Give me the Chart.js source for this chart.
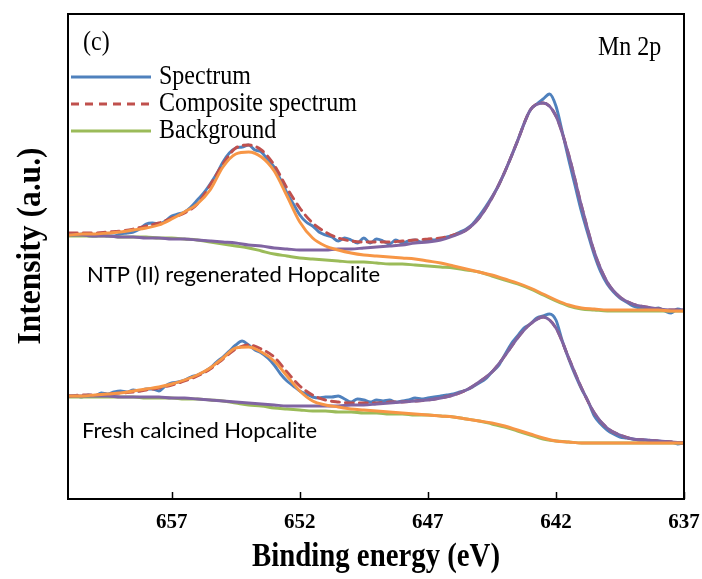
<!DOCTYPE html>
<html>
<head>
<meta charset="utf-8">
<script src="https://cdn.jsdelivr.net/npm/chart.js@4"></script>
<style>
html,body{margin:0;padding:0;background:#fff;}
#wrap{width:702px;height:579px;}
</style>
</head>
<body>
<div id="wrap"><canvas id="c" width="702" height="579"></canvas></div>
<script>
// ---- Data (binding energy in eV, intensity in a.u.) ----
const energyFine = [661,660.75,660.5,660.25,660,659.75,659.5,659.25,659,658.75,658.5,658.25,658,657.75,657.5,657.25,657,656.75,656.5,656.25,656,655.75,655.5,655.25,655,654.75,654.5,654.25,654,653.75,653.5,653.25,653,652.75,652.5,652.25,652,651.75,651.5,651.25,651,650.75,650.5,650.25,650,649.75,649.5,649.25,649,648.75,648.5,648.25,648,647.75,647.5,647.25,647,646.75,646.5,646.25,646,645.75,645.5,645.25,645,644.75,644.5,644.25,644,643.75,643.5,643.25,643,642.75,642.5,642.25,642,641.75,641.5,641.25,641,640.75,640.5,640.25,640,639.75,639.5,639.25,639,638.75,638.5,638.25,638,637.75,637.5,637.25,637];
const energyFit = [661,660.5,660,659.5,659,658.5,658,657.5,657,656.5,656,655.5,655,654.5,654,653.5,653,652.5,652,651.5,651,650.5,650,649.5,649,648.5,648,647.5,647,646.5,646,645.5,645,644.5,644,643.5,643,642.5,642,641.5,641,640.5,640,639.5,639,638.5,638,637.5,637];

// NTP (II) regenerated Hopcalite
const ntpSpectrum = [265,265,266,264,264,265,264,264,266,267,268,271,276,277,276,279,284,286,288,293,300,307,316,326,338,347,352,353,355,350,348,340,333,320,307,296,285,278,274,268,265,263,259,262,260,257,262,257,261,259,256,260,257,259,260,258,260,260,261,263,265,268,271,276,284,293,303,314,328,343,359,376,390,396,401,406,394,368,340,314,288,266,245,228,216,208,202,198,194,192,191,191,192,189,187,191,189];
const ntpComposite = [267,267,267,268,269,271,274,277,282,287,296,315,336,352,355,350,335,312,292,277,268,262,259,258,258,258,259,260,261,262,265,270,282,302,328,359,390,397,384,345,294,248,218,203,196,193,191,190,190];
const ntpBackground = [264,264,264,264,263,263,263,262,262,261,260,258,256,254,252,249,246,244,242,241,240,239,238,238,237,236,236,235,234,233,232,230,228,224,220,216,211,205,199,194,191,190,189,189,189,189,189,189,189];
const ntpPeak2p3 = [265,265,264,264,263,263,262,262,261,261,260,259,258,257,255,254,252,251,250,250,250,251,251,252,253,254,255,257,258,260,264,270,282,302,328,359,390,397,384,345,294,248,218,203,196,193,191,190,190];
const ntpPeak2p1 = [265,266,266,267,268,270,272,275,281,288,296,310,333,346,348,343,329,304,278,262,254,250,247,245,244,243,242,241,239,237,234,231,228,225,221,217,212,206,200,195,192,191,190,190,190,190,190,189,189];

// Fresh calcined Hopcalite
const freshSpectrum = [104,104,103,105,104,107,106,108,109,108,110,109,111,111,109,114,117,118,120,123,125,128,132,138,143,149,155,159,155,150,147,142,135,126,119,114,109,106,103,102,103,103,104,101,98,101,100,98,100,99,100,98,99,100,102,101,102,103,104,105,106,108,110,113,117,121,128,134,145,156,164,172,176,182,184,186,180,159,141,125,111,99,84,76,70,66,63,62,61,60,60,59,59,58,58,56,57];
const freshComposite = [104,105,105,106,107,108,110,112,115,119,124,131,141,151,155,151,143,128,114,105,100,98,97,97,97,98,98,99,100,102,105,110,118,128,144,162,176,183,172,142,112,87,72,65,61,60,59,58,57];
const freshBackground = [103,103,103,103,103,103,102,102,102,101,101,100,99,97,95,94,92,91,90,89,89,88,88,87,87,86,86,85,85,84,83,81,79,76,73,69,65,61,59,58,57,57,57,57,57,57,57,57,57];
const freshPeak2p3 = [104,104,104,104,103,103,103,103,102,102,101,100,99,98,97,96,95,94,94,94,94,94,95,95,96,97,98,99,100,102,105,110,118,128,144,162,176,183,172,142,112,87,72,65,61,60,59,58,57];
const freshPeak2p1 = [104,104,105,106,107,109,111,113,116,120,125,132,142,152,153,148,139,124,109,99,95,93,91,90,89,88,87,86,85,84,83,81,79,77,74,70,66,62,59,58,57,57,57,57,57,57,57,57,57];

const tickValues = [657,652,647,642,637];
const legendLabels = ['Spectrum','Composite spectrum','Background'];

// ---- Styles ----
const C_BLUE='#4F81BD', C_RED='#C0504D', C_GREEN='#9BBB59', C_PURPLE='#8064A2', C_ORANGE='#F79646';
const LW = 2.9;
const pts = (xs, ys) => xs.map((x,i)=>({x:x, y:ys[i]}));
function ds(xs, ys, color, dash){
  return {data:pts(xs,ys), borderColor:color, backgroundColor:color, borderWidth:LW,
    borderDash: dash||[], pointRadius:0, fill:false, cubicInterpolationMode:'monotone', borderCapStyle:'round', borderJoinStyle:'round'};
}
// first dataset is drawn on top
const datasets = [
  ds(energyFit, ntpPeak2p1, C_ORANGE),
  ds(energyFit, ntpPeak2p3, C_PURPLE),
  ds(energyFit, ntpComposite, C_RED, [8,6]),
  ds(energyFit, ntpBackground, C_GREEN),
  ds(energyFine, ntpSpectrum, C_BLUE),
  ds(energyFit, freshPeak2p1, C_ORANGE),
  ds(energyFit, freshPeak2p3, C_PURPLE),
  ds(energyFit, freshComposite, C_RED, [8,6]),
  ds(energyFit, freshBackground, C_GREEN),
  ds(energyFine, freshSpectrum, C_BLUE)
];

const SERIF='"Liberation Serif", "Times New Roman", serif';
const SANS='Lato, "Open Sans", sans-serif';
const texts = [
  {t:'(c)', font:'24px '+SERIF, x:83, y:50, sy:1.12},
  {t:'Mn 2p', font:'24px '+SERIF, x:598, y:55, sy:1.12},
  {t:'NTP (II) regenerated Hopcalite', font:'21px '+SANS, x:87, y:282, w:293, sy:1},
  {t:'Fresh calcined Hopcalite', font:'21px '+SANS, x:82, y:438, w:235, sy:1},
  {t:'Binding energy (eV)', font:'bold 29px '+SERIF, x:376, y:566, w:248, sy:1.15, align:'center'},
  {t:'Intensity (a.u.)', font:'bold 29px '+SERIF, x:40, y:246, w:197, sy:1.15, align:'center', rot:-Math.PI/2}
];

const decor = {
  id:'decor',
  afterDraw(chart){
    const ctx = chart.ctx, a = chart.chartArea, xs = chart.scales.x;
    ctx.save();
    // frame
    ctx.strokeStyle='#000'; ctx.lineWidth=2;
    ctx.strokeRect(a.left, a.top, a.right-a.left, a.bottom-a.top);
    // inward ticks
    ctx.lineWidth=1.5;
    tickValues.forEach(v=>{
      const px = Math.round(xs.getPixelForValue(v))+0.5;
      ctx.beginPath(); ctx.moveTo(px, a.bottom); ctx.lineTo(px, a.bottom-7); ctx.stroke();
    });
    // legend
    const ly=[77,104,131], lcol=[C_BLUE,C_RED,C_GREEN], ldash=[[],[8,6],[]];
    legendLabels.forEach((lab,i)=>{
      ctx.strokeStyle=lcol[i]; ctx.lineWidth=LW; ctx.setLineDash(ldash[i]);
      ctx.beginPath(); ctx.moveTo(a.left+3, ly[i]); ctx.lineTo(a.left+83, ly[i]); ctx.stroke();
      ctx.setLineDash([]);
      drawText(ctx, {t:lab, font:'24px '+SERIF, x:159, y:ly[i]+7, sy:1.12});
    });
    texts.forEach(o=>drawText(ctx,o));
    ctx.restore();
  }
};
function drawText(ctx, o){
  ctx.save();
  ctx.font=o.font; ctx.fillStyle='#000'; ctx.textBaseline='alphabetic';
  ctx.textAlign=o.align||'left';
  const m = ctx.measureText(o.t).width;
  const sx = o.w ? o.w/m : 1;
  ctx.translate(o.x, o.y);
  if(o.rot) ctx.rotate(o.rot);
  ctx.scale(sx, o.sy||1);
  ctx.fillText(o.t, 0, 0);
  ctx.restore();
}

new Chart(document.getElementById('c'), {
  type:'line',
  data:{datasets:datasets},
  options:{
    responsive:false, animation:false, devicePixelRatio:1,
    layout:{padding:{left:68, right:18, top:14, bottom:0}},
    plugins:{legend:{display:false}, tooltip:{enabled:false}},
    scales:{
      x:{type:'linear', reverse:true, min:637, max:661.05,
        afterBuildTicks:(s)=>{ s.ticks = tickValues.map(v=>({value:v})); },
        afterFit:(s)=>{ s.height=80; s.paddingLeft=0; s.paddingRight=0; },
        ticks:{autoSkip:false, maxRotation:0, padding:11, color:'#000',
          font:{family:SERIF, size:21, weight:'bold'}, callback:(v)=>String(v)},
        grid:{display:false, drawTicks:false}, border:{display:false}},
      y:{display:false, min:1, max:486}
    }
  },
  plugins:[decor]
});
</script>
</body>
</html>
